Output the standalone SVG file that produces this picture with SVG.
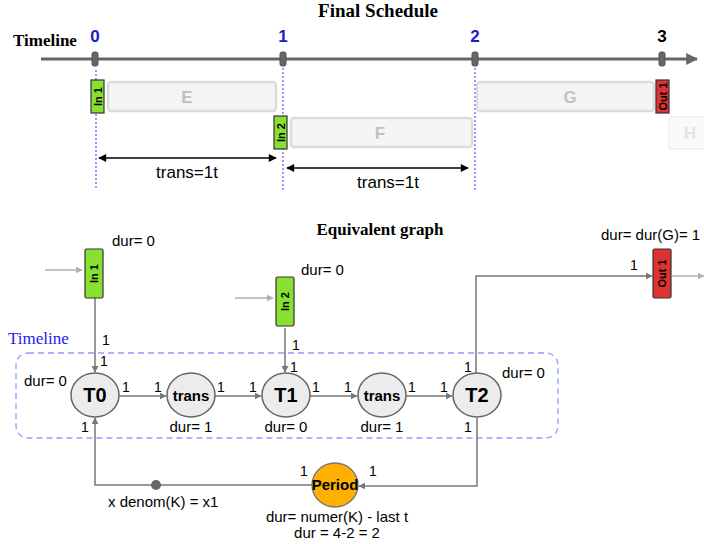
<svg xmlns="http://www.w3.org/2000/svg" width="704" height="544" viewBox="0 0 704 544">
<style>
.t{font-family:"Liberation Serif","Times New Roman",serif;font-weight:bold;fill:#000}
.s{font-family:"Liberation Sans",Arial,sans-serif;fill:#000}
.num{font-family:"Liberation Sans",Arial,sans-serif;font-weight:bold;font-size:17px;text-anchor:middle;fill:#1a1ad0}
.lbl{font-family:"Liberation Sans",Arial,sans-serif;font-size:14px;fill:#000}
.tick{fill:#666;stroke:#555;stroke-width:1}
.vl{stroke:#3333ff;stroke-width:1;stroke-dasharray:2,2}
.task{fill:#f5f5f5;stroke:#dcdcdc;stroke-width:2.5}
.tasktxt{font-family:"Liberation Sans",Arial,sans-serif;font-weight:bold;font-size:17px;fill:#c0c0c0;text-anchor:middle}
.inb{fill:#88e030;stroke:#333;stroke-width:1.2}
.outb{fill:#dd3333;stroke:#333;stroke-width:1.2}
.boxtxt{font-family:"Liberation Sans",Arial,sans-serif;font-weight:bold;font-size:11px;fill:#000;text-anchor:middle}
.node{fill:#ececec;stroke:#666;stroke-width:1.5}
.ntxt{font-family:"Liberation Sans",Arial,sans-serif;font-weight:bold;fill:#000;text-anchor:middle}
.e{fill:none;stroke:#777;stroke-width:1.5}
.eg{fill:none;stroke:#b0b0b0;stroke-width:1.5}
.blk{fill:none;stroke:#000;stroke-width:1.5}
</style>
<defs>
<marker id="ar" viewBox="0 0 10 10" refX="9" refY="5" markerWidth="7" markerHeight="7" markerUnits="userSpaceOnUse" orient="auto"><path d="M0,0 L10,5 L0,10 z" fill="#777"/></marker>
<marker id="arg" viewBox="0 0 10 10" refX="9" refY="5" markerWidth="7" markerHeight="7" markerUnits="userSpaceOnUse" orient="auto"><path d="M0,0 L10,5 L0,10 z" fill="#b0b0b0"/></marker>
<marker id="arb" viewBox="0 0 10 10" refX="9" refY="5" markerWidth="9" markerHeight="8" markerUnits="userSpaceOnUse" orient="auto-start-reverse"><path d="M0,0 L10,5 L0,10 z" fill="#000"/></marker>
<marker id="art" viewBox="0 0 10 10" refX="9" refY="5" markerWidth="12" markerHeight="12" markerUnits="userSpaceOnUse" orient="auto"><path d="M0,0 L10,5 L0,10 z" fill="#666"/></marker>
</defs>

<!-- Top: Final Schedule -->
<g id="schedule">
<text class="t" x="378" y="17" font-size="19" text-anchor="middle">Final Schedule</text>
<text class="t" x="13" y="46" font-size="17">Timeline</text>
<line x1="41" y1="59" x2="697" y2="59" stroke="#666" stroke-width="3" marker-end="url(#art)"/>
<rect class="tick" x="92" y="52" width="6" height="14" rx="2"/>
<rect class="tick" x="280" y="52" width="6" height="14" rx="2"/>
<rect class="tick" x="472" y="52" width="6" height="14" rx="2"/>
<rect class="tick" x="659" y="52" width="6" height="14" rx="2"/>
<text class="num" x="95" y="42">0</text>
<text class="num" x="283" y="42">1</text>
<text class="num" x="475" y="42">2</text>
<text class="num" x="662" y="42" style="fill:#000">3</text>
<line class="vl" x1="96" y1="70" x2="96" y2="190"/>
<line class="vl" x1="283" y1="68" x2="283" y2="190"/>
<line class="vl" x1="475" y1="68" x2="475" y2="190"/>
<rect class="task" x="108" y="82" width="168" height="29" rx="3"/>
<text class="tasktxt" x="187" y="103">E</text>
<rect class="task" x="291" y="118" width="181" height="29" rx="3"/>
<text class="tasktxt" x="380" y="139">F</text>
<rect class="task" x="477" y="82" width="177" height="29" rx="3"/>
<text class="tasktxt" x="570" y="103">G</text>
<rect x="669" y="117" width="40" height="32" rx="2" fill="#fafafa" stroke="#eeeeee" stroke-width="1.5"/>
<text class="tasktxt" x="690" y="139" style="fill:#e4e4e4">H</text>
<rect class="inb" x="91" y="80" width="13" height="33"/>
<text class="boxtxt" transform="translate(101.5,96.5) rotate(-90)">In 1</text>
<rect class="inb" x="274" y="116" width="13" height="33"/>
<text class="boxtxt" transform="translate(284.5,132.5) rotate(-90)">In 2</text>
<rect class="outb" x="656" y="80" width="13" height="33"/>
<text class="boxtxt" transform="translate(666.5,96.5) rotate(-90)">Out 1</text>
<line class="blk" x1="99" y1="158" x2="276" y2="158" marker-start="url(#arb)" marker-end="url(#arb)"/>
<text class="s" x="187" y="178" font-size="17" text-anchor="middle">trans=1t</text>
<line class="blk" x1="287" y1="168" x2="468" y2="168" marker-start="url(#arb)" marker-end="url(#arb)"/>
<text class="s" x="388" y="188" font-size="17" text-anchor="middle">trans=1t</text>
</g>

<!-- Bottom: Equivalent graph -->
<text class="t" x="380" y="235" font-size="17" text-anchor="middle">Equivalent graph</text>
<g id="timeline-frame">
<rect x="16" y="353" width="542" height="85" rx="12" fill="none" stroke="#9999ff" stroke-width="1.3" stroke-dasharray="6,4"/>
<text x="8" y="344" font-family="Liberation Serif,'Times New Roman',serif" font-size="17" fill="#2222ee">Timeline</text>
</g>

<g id="connectors">
<line class="eg" x1="45" y1="270" x2="82" y2="270" marker-end="url(#arg)"/>
<line class="eg" x1="235" y1="298" x2="273" y2="298" marker-end="url(#arg)"/>
<line class="eg" x1="672" y1="276" x2="704" y2="276" marker-end="url(#arg)"/>
<line class="e" x1="95" y1="298" x2="95" y2="372" marker-end="url(#ar)"/>
<line class="e" x1="285" y1="328" x2="285" y2="372" marker-end="url(#ar)"/>
<line class="e" x1="119" y1="396" x2="166" y2="396" marker-end="url(#ar)"/>
<line class="e" x1="215" y1="396" x2="261" y2="396" marker-end="url(#ar)"/>
<line class="e" x1="310" y1="396" x2="357" y2="396" marker-end="url(#ar)"/>
<line class="e" x1="406" y1="396" x2="452" y2="396" marker-end="url(#ar)"/>
<polyline class="e" points="476,373 476,276 652,276" marker-end="url(#ar)"/>
<polyline class="e" points="477,418 477,486 359,486" marker-end="url(#ar)"/>
<polyline class="e" points="312,485 95,485 95,418" marker-end="url(#ar)"/>
<circle cx="156" cy="485" r="5" fill="#666"/>
</g>

<g id="labels">
<text class="lbl" x="102" y="345">1</text>
<text class="lbl" x="100" y="366">1</text>
<text class="lbl" x="292" y="350">1</text>
<text class="lbl" x="290" y="372">1</text>
<text class="lbl" x="122" y="392">1</text>
<text class="lbl" x="154" y="392">1</text>
<text class="lbl" x="217" y="392">1</text>
<text class="lbl" x="249" y="392">1</text>
<text class="lbl" x="312" y="392">1</text>
<text class="lbl" x="344" y="392">1</text>
<text class="lbl" x="408" y="392">1</text>
<text class="lbl" x="440" y="392">1</text>
<text class="lbl" x="464" y="372">1</text>
<text class="lbl" x="464" y="432">1</text>
<text class="lbl" x="81" y="432">1</text>
<text class="lbl" x="630" y="270">1</text>
<text class="lbl" x="300" y="476">1</text>
<text class="lbl" x="369" y="476">1</text>
<text class="s" x="112" y="246" font-size="15">dur= 0</text>
<text class="s" x="301" y="275" font-size="15">dur= 0</text>
<text class="s" x="24" y="386" font-size="15">dur= 0</text>
<text class="s" x="502" y="378" font-size="15">dur= 0</text>
<text class="s" x="191" y="432" font-size="15" text-anchor="middle">dur= 1</text>
<text class="s" x="286" y="432" font-size="15" text-anchor="middle">dur= 0</text>
<text class="s" x="382" y="432" font-size="15" text-anchor="middle">dur= 1</text>
<text class="s" x="601" y="240" font-size="15">dur= dur(G)= 1</text>
<text class="s" x="108" y="507" font-size="15">x denom(K) = x1</text>
<text class="s" x="337" y="522" font-size="15" text-anchor="middle">dur= numer(K) - last t</text>
<text class="s" x="337" y="538" font-size="15" text-anchor="middle">dur = 4-2 = 2</text>
</g>

<g id="In1"><rect class="inb" x="85" y="249" width="18" height="49" rx="1.5"/><text class="boxtxt" transform="translate(98,273.5) rotate(-90)">In 1</text></g>
<g id="In2"><rect class="inb" x="276" y="277" width="18" height="49" rx="1.5"/><text class="boxtxt" transform="translate(289,301.5) rotate(-90)">In 2</text></g>
<g id="Out1"><rect class="outb" x="653" y="249" width="18" height="49" rx="1.5"/><text class="boxtxt" transform="translate(666,273.5) rotate(-90)">Out 1</text></g>
<g id="T0"><ellipse class="node" cx="95" cy="395" rx="24" ry="22"/><text class="ntxt" x="95" y="402" font-size="20">T0</text></g>
<g id="trans1"><ellipse class="node" cx="191" cy="395" rx="24" ry="22"/><text class="ntxt" x="191" y="401" font-size="15">trans</text></g>
<g id="T1"><ellipse class="node" cx="286" cy="395" rx="24" ry="22"/><text class="ntxt" x="286" y="402" font-size="20">T1</text></g>
<g id="trans2"><ellipse class="node" cx="382" cy="395" rx="24" ry="22"/><text class="ntxt" x="382" y="401" font-size="15">trans</text></g>
<g id="T2"><ellipse class="node" cx="477" cy="395" rx="24" ry="22"/><text class="ntxt" x="477" y="402" font-size="20">T2</text></g>
<g id="Period"><ellipse cx="335" cy="485" rx="23" ry="22" fill="#ffb000" stroke="#777" stroke-width="1.3"/><text class="ntxt" x="335" y="490" font-size="15">Period</text></g>
</svg>
